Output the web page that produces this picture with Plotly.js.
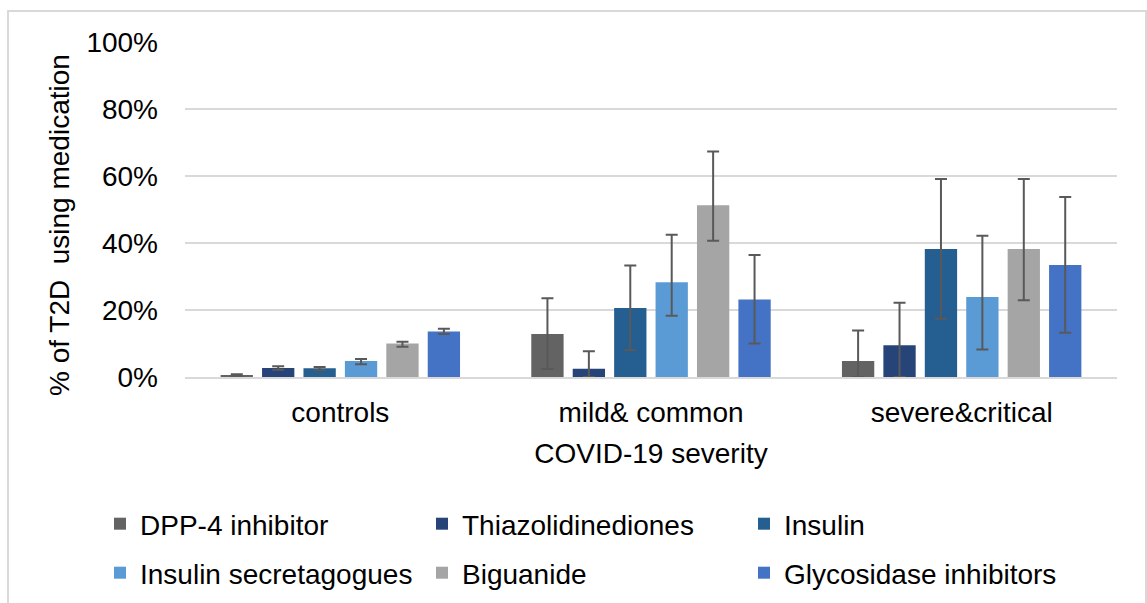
<!DOCTYPE html>
<html>
<head>
<meta charset="utf-8">
<script src="https://cdn.plot.ly/plotly-3.0.1.min.js"></script>
<style>
  html, body { margin: 0; padding: 0; background: #fff; }
  #chart { width: 1147px; height: 603px; }
</style>
</head>
<body>
<div id="chart"></div>
<script>
// Categories (COVID-19 severity groups)
const categories = ["controls", "mild& common", "severe&critical"];

// Series names
const seriesNames = ["DPP-4 inhibitor", "Thiazolidinediones", "Insulin",
                     "Insulin secretagogues", "Biguanide", "Glycosidase inhibitors"];

// Bar values (% of T2D using medication)
const dpp4Values        = [0.6, 12.8, 4.8];
const thiazoValues      = [2.7, 2.5, 9.5];
const insulinValues     = [2.6, 20.6, 38.2];
const secretagogValues  = [4.8, 28.3, 23.9];
const biguanideValues   = [10.0, 51.3, 38.2];
const glycosidaseValues = [13.6, 23.1, 33.4];

// Error bar upper bounds (%)
const dpp4Upper        = [0.8, 23.5, 13.9];
const thiazoUpper      = [3.2, 7.7, 22.2];
const insulinUpper     = [3.0, 33.3, 59.1];
const secretagogUpper  = [5.4, 42.5, 42.2];
const biguanideUpper   = [10.5, 67.3, 59.1];
const glycosidaseUpper = [14.4, 36.4, 53.7];

// Error bar lower bounds (%)
const dpp4Lower        = [0.4, 2.4, 0.0];
const thiazoLower      = [2.2, 0.0, 0.0];
const insulinLower     = [2.0, 8.0, 17.4];
const secretagogLower  = [3.8, 18.3, 8.2];
const biguanideLower   = [9.0, 40.7, 22.9];
const glycosidaseLower = [12.8, 10.0, 13.2];

// Y axis ticks
const yTickValues = [0, 20, 40, 60, 80, 100];
const yTickLabels = ["0%", "20%", "40%", "60%", "80%", "100%"];

const yTitleText = "% of T2D  using medication";
const xTitleText = "COVID-19 severity";

const seriesValues = [dpp4Values, thiazoValues, insulinValues, secretagogValues, biguanideValues, glycosidaseValues];
const seriesUpper  = [dpp4Upper, thiazoUpper, insulinUpper, secretagogUpper, biguanideUpper, glycosidaseUpper];
const seriesLower  = [dpp4Lower, thiazoLower, insulinLower, secretagogLower, biguanideLower, glycosidaseLower];
const colors = ["#636363", "#264478", "#255e91", "#5b9bd5", "#a5a5a5", "#4472c4"];

const FONT = "Liberation Sans, Arial, sans-serif";
const FS = 28;

const traces = seriesNames.map((name, i) => ({
  type: "bar",
  name: name,
  x: categories,
  y: seriesValues[i],
  marker: { color: colors[i] },
  legend: i < 3 ? "legend" : "legend2",
  error_y: {
    type: "data",
    symmetric: false,
    array: seriesUpper[i].map((u, k) => u - seriesValues[i][k]),
    arrayminus: seriesValues[i].map((v, k) => v - seriesLower[i][k]),
    color: "#595959",
    thickness: 2,
    width: 6
  },
  hoverinfo: "skip"
}));

// plot area pixels: x 185..1117, y 42..377
const L = 185, R = 1117, T = 42, B = 377;
const px = (p) => (p - L) / (R - L);
const py = (p) => (B - p) / (B - T);

const legendCommon = {
  orientation: "h",
  x: px(100), xanchor: "left",
  yanchor: "middle",
  entrywidth: 277, entrywidthmode: "pixels",
  font: { family: FONT, size: FS, color: "#000000" },
  bgcolor: "rgba(0,0,0,0)",
  traceorder: "normal"
};

const layout = {
  width: 1147,
  height: 603,
  margin: { l: L, r: 1147 - R, t: T, b: 603 - B, autoexpand: false },
  paper_bgcolor: "#ffffff",
  plot_bgcolor: "#ffffff",
  font: { family: FONT, size: FS, color: "#000000" },
  barmode: "group",
  bargap: 0.2,
  bargroupgap: 0.22,
  showlegend: true,
  xaxis: {
    type: "category",
    showgrid: false,
    showline: true,
    linecolor: "#d9d9d9",
    linewidth: 2,
    ticks: "",
    ticklabelstandoff: 9,
    tickfont: { family: FONT, size: FS, color: "#000000" },
    title: { text: xTitleText, font: { family: FONT, size: FS, color: "#000000" }, standoff: 17 },
    automargin: false
  },
  yaxis: {
    range: [0, 100],
    tickvals: yTickValues,
    ticktext: yTickLabels,
    showgrid: true,
    gridcolor: "#d9d9d9",
    gridwidth: 2,
    zeroline: false,
    showline: false,
    ticks: "",
    ticklabelstandoff: 26,
    tickfont: { family: FONT, size: FS, color: "#000000" },
    automargin: false
  },
  annotations: [
    {
      text: yTitleText,
      xref: "paper", yref: "paper",
      x: px(59), y: py(225),
      xanchor: "center", yanchor: "middle",
      textangle: -90,
      showarrow: false,
      font: { family: FONT, size: FS, color: "#000000" }
    }
  ],
  legend: Object.assign({}, legendCommon, { y: py(524) }),
  legend2: Object.assign({}, legendCommon, { y: py(573) }),
  shapes: [
    {
      type: "rect", xref: "paper", yref: "paper",
      x0: px(8), x1: px(1146), y0: py(615), y1: py(11),
      line: { color: "#d9d9d9", width: 2 },
      fillcolor: "rgba(0,0,0,0)",
      layer: "below"
    }
  ]
};

Plotly.newPlot("chart", traces, layout, { staticPlot: true, displayModeBar: false });
</script>
</body>
</html>
